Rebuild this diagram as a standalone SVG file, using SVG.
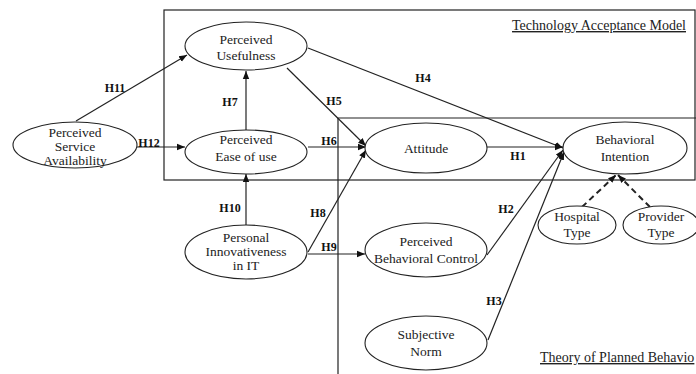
<svg xmlns="http://www.w3.org/2000/svg" width="696" height="374" viewBox="0 0 696 374">
<defs>
<marker id="arr" viewBox="0 0 10 10" refX="10" refY="5" markerWidth="8" markerHeight="8" markerUnits="userSpaceOnUse" orient="auto">
<path d="M0,1 L10,5 L0,9 Z" fill="#111"/>
</marker>
<style>
.frame{fill:none;stroke:#222;stroke-width:1.2}
.node ellipse{fill:#fff;stroke:#222;stroke-width:1.1}
.node text{font-family:"Liberation Serif",serif;font-size:13.5px;fill:#222;text-anchor:middle}
.edge{fill:none;stroke:#222;stroke-width:1.2;marker-end:url(#arr)}
.dash{fill:none;stroke:#222;stroke-width:2;stroke-dasharray:6,4;marker-end:url(#arr)}
.lbl{font-family:"Liberation Serif",serif;font-size:12px;font-weight:bold;fill:#111;text-anchor:middle}
.title{font-family:"Liberation Serif",serif;font-size:14px;fill:#222;text-decoration:underline}
</style>
</defs>
<rect width="696" height="374" fill="#fff"/>
<g id="frames">
<rect class="frame" x="164" y="10" width="531" height="170"/>
<path class="frame" d="M338,374 L338,118 L696,118"/>
<text class="title" x="686" y="30" text-anchor="end">Technology Acceptance Model</text>
<text class="title" x="540" y="362">Theory of Planned Behavio</text>
</g>
<g id="connectors">
<line class="edge" x1="76" y1="121" x2="187" y2="55"/>
<line class="edge" x1="137" y1="147" x2="185" y2="147"/>
<line class="edge" x1="246" y1="130" x2="246" y2="71"/>
<line class="edge" x1="246" y1="225" x2="246" y2="174"/>
<line class="edge" x1="308" y1="147" x2="366" y2="147"/>
<line class="edge" x1="287" y1="68" x2="366" y2="146"/>
<line class="edge" x1="308" y1="48" x2="563" y2="148"/>
<line class="edge" x1="487" y1="147" x2="563" y2="147"/>
<line class="edge" x1="308" y1="252" x2="366" y2="150"/>
<line class="edge" x1="308" y1="254" x2="365" y2="254"/>
<line class="edge" x1="487" y1="255" x2="563" y2="150"/>
<line class="edge" x1="488" y1="340" x2="564" y2="152"/>
<line class="dash" x1="582" y1="207" x2="616" y2="175"/>
<line class="dash" x1="650" y1="207" x2="618" y2="175"/>
<text class="lbl" x="115" y="92">H11</text>
<text class="lbl" x="149" y="147">H12</text>
<text class="lbl" x="230" y="106">H7</text>
<text class="lbl" x="334" y="105">H5</text>
<text class="lbl" x="329" y="145">H6</text>
<text class="lbl" x="423" y="82">H4</text>
<text class="lbl" x="518" y="160">H1</text>
<text class="lbl" x="230" y="212">H10</text>
<text class="lbl" x="318" y="217">H8</text>
<text class="lbl" x="329" y="251">H9</text>
<text class="lbl" x="506" y="213">H2</text>
<text class="lbl" x="494" y="305">H3</text>
</g>
<g id="n-pu" class="node"><ellipse cx="246" cy="46" rx="61" ry="24"/><text x="246" y="44">Perceived</text><text x="246" y="60">Usefulness</text></g>
<g id="n-psa" class="node"><ellipse cx="75" cy="145" rx="62" ry="23"/><text x="75" y="137">Perceived</text><text x="75" y="151">Service</text><text x="75" y="165">Availability</text></g>
<g id="n-peu" class="node"><ellipse cx="246" cy="152" rx="61" ry="22"/><text x="246" y="144">Perceived</text><text x="246" y="161">Ease of use</text></g>
<g id="n-att" class="node"><ellipse cx="426" cy="148" rx="61" ry="25"/><text x="426" y="153">Attitude</text></g>
<g id="n-bi" class="node"><ellipse cx="625" cy="148" rx="62" ry="26"/><text x="625" y="144">Behavioral</text><text x="625" y="161">Intention</text></g>
<g id="n-pi" class="node"><ellipse cx="246" cy="252" rx="61" ry="27"/><text x="246" y="242">Personal</text><text x="246" y="256">Innovativeness</text><text x="246" y="270">in IT</text></g>
<g id="n-pbc" class="node"><ellipse cx="426" cy="250" rx="61" ry="27"/><text x="426" y="246">Perceived</text><text x="426" y="263">Behavioral Control</text></g>
<g id="n-sn" class="node"><ellipse cx="426" cy="343" rx="61" ry="27"/><text x="426" y="339">Subjective</text><text x="426" y="356">Norm</text></g>
<g id="n-ht" class="node"><ellipse cx="577" cy="225" rx="39" ry="19"/><text x="577" y="221">Hospital</text><text x="577" y="237">Type</text></g>
<g id="n-prt" class="node"><ellipse cx="661" cy="225" rx="38" ry="19"/><text x="661" y="221">Provider</text><text x="661" y="237">Type</text></g>
</svg>
